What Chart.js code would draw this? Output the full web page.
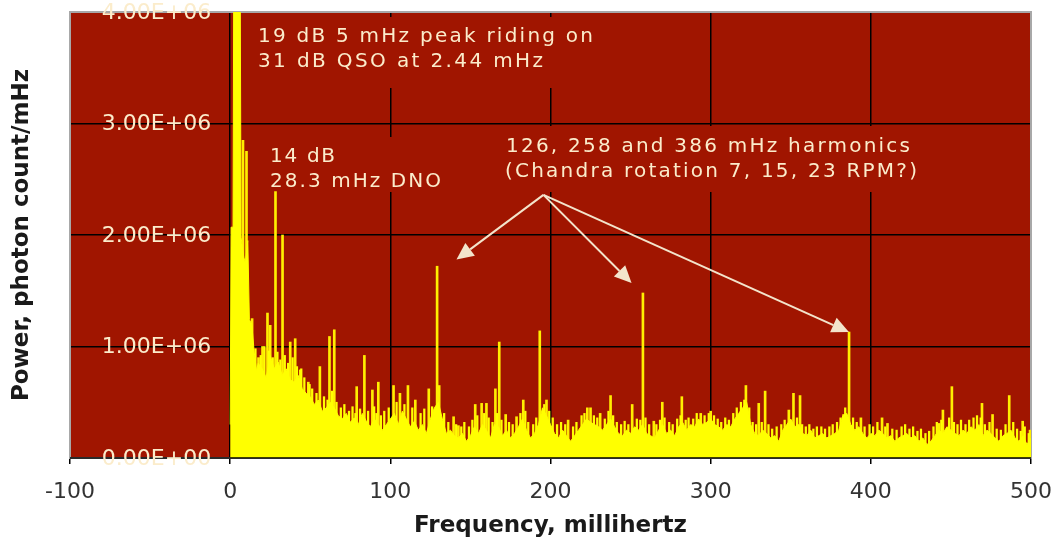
<!DOCTYPE html>
<html>
<head>
<meta charset="utf-8">
<script src="https://cdn.jsdelivr.net/npm/chart.js@4.4.0/dist/chart.umd.min.js"></script>
<style>
  html, body { margin: 0; padding: 0; background: #fff; }
  #wrap { width: 1054px; height: 542px; }
</style>
</head>
<body>
<div id="wrap"><canvas id="powerChart" width="1054" height="542"></canvas></div>
<script>
// Power values are in millions of photon counts/mHz (1.00 = 1.00E+06)

// dense spectrum envelope
const floorFreq = [
    0, 0.6, 1.8, 2.4, 5.0, 6.2, 6.8, 8.5, 9.5, 11.0, 12.0, 13.5, 15.0, 16.5,
    17.5, 20, 22.5, 25, 27.5, 30, 32.5, 35, 37.5, 40,
    42.5, 45, 47.5, 50, 52.5, 55, 57.5, 60, 62.5, 65,
    67.5, 70, 72.5, 75, 77.5, 80, 82.5, 85, 87.5, 90,
    92.5, 95, 97.5, 100, 102.5, 105, 107.5, 110, 112.5, 115,
    117.5, 120, 122.5, 125, 127.5, 130, 132.5, 135, 137.5, 140,
    142.5, 145, 147.5, 150, 152.5, 155, 157.5, 160, 162.5, 165,
    167.5, 170, 172.5, 175, 177.5, 180, 182.5, 185, 187.5, 190,
    192.5, 195, 197.5, 200, 202.5, 205, 207.5, 210, 212.5, 215,
    217.5, 220, 222.5, 225, 227.5, 230, 232.5, 235, 237.5, 240,
    242.5, 245, 247.5, 250, 252.5, 255, 257.5, 260, 262.5, 265,
    267.5, 270, 272.5, 275, 277.5, 280, 282.5, 285, 287.5, 290,
    292.5, 295, 297.5, 300, 302.5, 305, 307.5, 310, 312.5, 315,
    317.5, 320, 322.5, 325, 327.5, 330, 332.5, 335, 337.5, 340,
    342.5, 345, 347.5, 350, 352.5, 355, 357.5, 360, 362.5, 365,
    367.5, 370, 372.5, 375, 377.5, 380, 382.5, 385, 387.5, 390,
    392.5, 395, 397.5, 400, 402.5, 405, 407.5, 410, 412.5, 415,
    417.5, 420, 422.5, 425, 427.5, 430, 432.5, 435, 437.5, 440,
    442.5, 445, 447.5, 450, 452.5, 455, 457.5, 460, 462.5, 465,
    467.5, 470, 472.5, 475, 477.5, 480, 482.5, 485, 487.5, 490,
    492.5, 495, 497.5, 500
];
const floorPower = [
    0.30, 2.07, 2.07, 5.2, 5.0, 4.6, 1.98, 1.80, 1.75, 1.95, 1.24, 1.20, 0.95, 0.78,
    0.85, 0.80, 0.72, 0.92, 0.80, 0.86, 0.74, 0.80, 0.70, 0.68,
    0.74, 0.62, 0.58, 0.55, 0.48, 0.52, 0.42, 0.45, 0.50, 0.45,
    0.38, 0.35, 0.40, 0.32, 0.36, 0.30, 0.40, 0.33, 0.28, 0.35,
    0.30, 0.25, 0.30, 0.35, 0.40, 0.30, 0.42, 0.35, 0.28, 0.33,
    0.25, 0.30, 0.22, 0.35, 0.45, 0.50, 0.35, 0.22, 0.25, 0.20,
    0.18, 0.22, 0.15, 0.20, 0.28, 0.22, 0.30, 0.25, 0.18, 0.30,
    0.28, 0.20, 0.25, 0.18, 0.22, 0.28, 0.35, 0.25, 0.18, 0.22,
    0.30, 0.45, 0.38, 0.30, 0.22, 0.18, 0.25, 0.20, 0.15, 0.20,
    0.25, 0.30, 0.35, 0.32, 0.30, 0.28, 0.25, 0.30, 0.35, 0.28,
    0.22, 0.20, 0.25, 0.22, 0.28, 0.25, 0.30, 0.22, 0.20, 0.18,
    0.25, 0.30, 0.22, 0.25, 0.20, 0.28, 0.32, 0.25, 0.30, 0.28,
    0.35, 0.30, 0.32, 0.35, 0.30, 0.28, 0.25, 0.30, 0.28, 0.35,
    0.40, 0.45, 0.50, 0.30, 0.22, 0.20, 0.25, 0.22, 0.18, 0.20,
    0.15, 0.25, 0.30, 0.35, 0.28, 0.30, 0.22, 0.20, 0.25, 0.18,
    0.20, 0.22, 0.18, 0.20, 0.22, 0.25, 0.38, 0.40, 0.30, 0.25,
    0.28, 0.22, 0.18, 0.22, 0.20, 0.25, 0.22, 0.18, 0.20, 0.15,
    0.18, 0.20, 0.22, 0.18, 0.20, 0.15, 0.18, 0.12, 0.15, 0.20,
    0.25, 0.22, 0.28, 0.25, 0.22, 0.20, 0.25, 0.22, 0.28, 0.25,
    0.30, 0.20, 0.25, 0.22, 0.18, 0.15, 0.20, 0.22, 0.25, 0.18,
    0.15, 0.20, 0.12, 0.18
];

// small peaks that make the grass over the floor
const grassFreq = [
    15.8, 19.1, 21.4, 24.2, 26.6, 29.5, 31.3, 34.1, 36.2, 39.0,
    41.7, 44.4, 46.3, 49.6, 51.2, 53.9, 58.6, 60.8, 63.6, 66.4,
    69.1, 71.3, 74.2, 76.4, 78.2, 81.1, 86.1, 89.9, 91.3, 94.1,
    96.2, 99.0, 103.9, 108.8, 113.7, 118.9, 121.2, 126.1, 133.6, 136.2,
    141.1, 144.3, 146.2, 149.1, 151.2, 154.3, 158.6, 161.4, 163.8, 166.6,
    169.4, 174.1, 176.4, 181.2, 184.3, 186.1, 189.2, 191.1, 196.1, 199.2,
    201.4, 204.1, 206.6, 209.2, 214.1, 216.2, 219.4, 221.2, 227.1, 229.2,
    233.9, 236.2, 239.1, 241.4, 244.1, 246.3, 248.6, 253.9, 256.1, 259.3,
    261.6, 266.1, 268.4, 271.2, 274.1, 276.3, 279.1, 281.2, 284.4, 286.2,
    289.1, 291.3, 296.2, 298.8, 302.1, 304.4, 306.6, 309.1, 311.4, 314.1,
    316.3, 318.9, 321.0, 324.1, 326.2, 328.4, 331.9, 336.1, 338.4, 341.2,
    344.1, 346.2, 353.9, 357.1, 359.4, 361.6, 364.1, 366.3, 369.1, 371.4,
    374.1, 376.2, 378.9, 381.1, 384.0, 388.9, 391.2, 396.1, 399.2, 401.4,
    404.1, 409.0, 413.4, 416.1, 419.2, 421.4, 424.1, 426.4, 429.1, 431.3,
    434.1, 436.4, 439.1, 441.2, 444.0, 448.9, 451.9, 454.1, 456.3, 459.1,
    461.4, 464.1, 466.3, 468.6, 471.2, 474.1, 478.6, 481.2, 484.1, 488.9,
    491.3, 493.6, 496.1, 498.6
];
const grassPower = [
    0.98, 0.92, 1.00, 0.96, 0.90, 0.95, 0.88, 0.92, 0.85, 0.90,
    0.82, 0.80, 0.72, 0.66, 0.62, 0.58, 0.55, 0.52, 0.60, 0.50,
    0.45, 0.48, 0.42, 0.46, 0.40, 0.44, 0.42, 0.46, 0.40, 0.38,
    0.42, 0.45, 0.50, 0.48, 0.45, 0.40, 0.44, 0.46, 0.40, 0.32,
    0.30, 0.28, 0.32, 0.28, 0.34, 0.38, 0.40, 0.36, 0.32, 0.40,
    0.34, 0.32, 0.30, 0.40, 0.42, 0.32, 0.30, 0.36, 0.48, 0.42,
    0.36, 0.30, 0.32, 0.30, 0.28, 0.32, 0.38, 0.40, 0.38, 0.36,
    0.35, 0.42, 0.38, 0.32, 0.30, 0.33, 0.30, 0.35, 0.34, 0.36,
    0.30, 0.30, 0.34, 0.36, 0.32, 0.30, 0.35, 0.38, 0.34, 0.36,
    0.35, 0.40, 0.38, 0.40, 0.38, 0.35, 0.32, 0.36, 0.34, 0.40,
    0.45, 0.50, 0.52, 0.45, 0.32, 0.30, 0.32, 0.30, 0.26, 0.28,
    0.30, 0.34, 0.36, 0.30, 0.28, 0.30, 0.26, 0.28, 0.28, 0.26,
    0.28, 0.30, 0.32, 0.36, 0.45, 0.36, 0.32, 0.28, 0.30, 0.28,
    0.32, 0.28, 0.26, 0.25, 0.28, 0.30, 0.26, 0.28, 0.24, 0.26,
    0.22, 0.24, 0.28, 0.32, 0.34, 0.36, 0.32, 0.30, 0.34, 0.30,
    0.34, 0.36, 0.38, 0.36, 0.30, 0.32, 0.26, 0.25, 0.30, 0.32,
    0.26, 0.24, 0.28, 0.22
];

// narrow peaks standing above the floor
const spikeFreq = [
    8.0, 10.2, 13.7, 17.7, 20.2, 23.3, 25.0, 28.3, 32.7, 37.5, 40.6, 43.8, 48.8, 56.0, 62.0, 65.0, 79.0, 83.8, 88.8, 92.5,
    102, 106, 111, 115.6, 124, 129.2, 130.5, 139.5, 142.5, 153, 157, 160, 165.6, 168, 172, 178.8, 183, 193.3, 197.5, 211,
    223, 225, 231, 237.5, 251,
    257.7, 264.5, 269.8, 282, 293.8, 300, 322, 330, 334, 348.8, 351.7, 355.8, 383, 386.4, 393.8, 407, 410.4, 442.5, 445, 450.6,
    469.4, 476, 486.4, 494.8, 499.4
];
const spikePower = [
    2.85, 2.75, 1.25, 0.90, 1.00, 1.30, 1.19, 2.39, 2.00, 1.04, 1.07, 0.79, 0.68, 0.82, 1.09, 1.15, 0.64, 0.92, 0.61, 0.68,
    0.65, 0.58, 0.65, 0.52, 0.62, 1.72, 0.65, 0.37, 0.29, 0.48, 0.49, 0.49, 0.62, 1.04, 0.39, 0.37, 0.52, 1.14, 0.52, 0.34,
    0.45, 0.45, 0.40, 0.56, 0.48,
    1.48, 0.33, 0.50, 0.55, 0.40, 0.42, 0.65, 0.49, 0.60, 0.43, 0.58, 0.56, 0.39, 1.13, 0.36, 0.36, 0.31, 0.31, 0.43, 0.64,
    0.49, 0.39, 0.56, 0.33, 0.25
];

const xMin = -100, xMax = 500, xStep = 100;
const yMin = 0, yMax = 4, yStep = 1;

const noteQso = ['19 dB 5 mHz peak riding on', '31 dB QSO at 2.44 mHz'];
const noteDno = ['14 dB', '28.3 mHz DNO'];
const noteHarm = ['126, 258 and 386 mHz harmonics', '(Chandra rotation 7, 15, 23 RPM?)'];
// arrows: tail and tips in data units [mHz, millions]
const arrowTail = [195.6, 2.36];
const arrowTips = [[141.3, 1.78], [250.6, 1.57], [386.3, 1.13]];

const plotRed = '#a01500';
const cream = '#fbeccb';

function formatPower(v) {
    return v === 0 ? '0.00E+00' : v.toFixed(2) + 'E+06';
}

// draws text widened by letter spacing to a target width
function spacedText(ctx, text, x, y, width) {
    ctx.letterSpacing = '0px';
    const w = ctx.measureText(text).width;
    const sp = Math.max(0, (width - w) / (text.length - 1));
    ctx.letterSpacing = sp + 'px';
    ctx.fillText(text, x, y);
    ctx.letterSpacing = '0px';
}

function arrow(ctx, x1, y1, x2, y2) {
    const ang = Math.atan2(y2 - y1, x2 - x1);
    const len = 17, half = 8;
    const bx = x2 - len * Math.cos(ang), by = y2 - len * Math.sin(ang);
    ctx.beginPath();
    ctx.moveTo(x1, y1);
    ctx.lineTo(bx, by);
    ctx.stroke();
    ctx.beginPath();
    ctx.moveTo(x2, y2);
    ctx.lineTo(bx + half * Math.sin(ang), by - half * Math.cos(ang));
    ctx.lineTo(bx - half * Math.sin(ang), by + half * Math.cos(ang));
    ctx.closePath();
    ctx.fill();
}

const plotDecor = {
    id: 'plotDecor',
    beforeDraw(chart) {
        const {ctx, chartArea: a} = chart;
        ctx.save();
        ctx.fillStyle = plotRed;
        ctx.fillRect(a.left, a.top, a.right - a.left, a.bottom - a.top);
        ctx.restore();
    },
    beforeDatasetsDraw(chart) {
        const {ctx, chartArea: a} = chart;
        ctx.save();
        // boxes behind the notes hide the grid
        ctx.fillStyle = plotRed;
        ctx.fillRect(250, 17, 352, 71);
        ctx.fillRect(262, 137, 190, 55);
        ctx.fillRect(498, 126, 430, 66);
        // plot frame
        ctx.strokeStyle = '#a8a8a8';
        ctx.lineWidth = 2;
        ctx.strokeRect(a.left, a.top, a.right - a.left, a.bottom - a.top);
        ctx.restore();
    },
    afterDatasetsDraw(chart) {
        const {ctx, chartArea: a, scales: {x, y}} = chart;
        ctx.save();
        // x axis line
        ctx.strokeStyle = '#000';
        ctx.lineWidth = 1.5;
        ctx.beginPath();
        ctx.moveTo(a.left, a.bottom);
        ctx.lineTo(a.right, a.bottom);
        ctx.stroke();

        // y tick labels sit left of the axis crossing at 0 mHz
        ctx.fillStyle = cream;
        ctx.font = '22px "DejaVu Sans"';
        ctx.textAlign = 'right';
        ctx.textBaseline = 'middle';
        const x0 = x.getPixelForValue(0);
        y.ticks.forEach(t => {
            ctx.fillText(formatPower(t.value), x0 - 19, y.getPixelForValue(t.value) + 1);
        });

        // notes
        ctx.textAlign = 'left';
        ctx.textBaseline = 'alphabetic';
        ctx.font = '20px "DejaVu Sans"';
        spacedText(ctx, noteQso[0], 258, 42, 335);
        spacedText(ctx, noteQso[1], 258, 67, 285);
        spacedText(ctx, noteDno[0], 270, 162, 65);
        spacedText(ctx, noteDno[1], 270, 187, 171);
        spacedText(ctx, noteHarm[0], 506, 152, 404);
        spacedText(ctx, noteHarm[1], 505, 177, 412);

        // arrows
        ctx.strokeStyle = '#f3e4cb';
        ctx.fillStyle = '#f3e4cb';
        ctx.lineWidth = 2;
        const tx = x.getPixelForValue(arrowTail[0]), ty = y.getPixelForValue(arrowTail[1]);
        arrowTips.forEach(p => arrow(ctx, tx, ty, x.getPixelForValue(p[0]), y.getPixelForValue(p[1])));

        // y axis title
        ctx.fillStyle = '#1a1a1a';
        ctx.font = 'bold 23px "DejaVu Sans"';
        ctx.textAlign = 'center';
        ctx.textBaseline = 'middle';
        ctx.translate(22, (a.top + a.bottom) / 2);
        ctx.rotate(-Math.PI / 2);
        ctx.fillText('Power, photon count/mHz', 0, 0);
        ctx.restore();
    }
};

const floorData = floorFreq.map((f, i) => ({x: f, y: floorPower[i]}));
const grassData = grassFreq.map((f, i) => ({x: f, y: grassPower[i]}));
const spikeData = spikeFreq.map((f, i) => ({x: f, y: spikePower[i]}));

new Chart(document.getElementById('powerChart'), {
    type: 'line',
    data: {
        datasets: [{
            type: 'bar',
            label: 'Peaks',
            data: spikeData,
            backgroundColor: '#ffee00',
            borderWidth: 0,
            barThickness: 2,
            grouped: false,
            order: 3
        }, {
            type: 'bar',
            label: 'Grass',
            data: grassData,
            backgroundColor: '#ffff00',
            borderWidth: 0,
            barThickness: 1.6,
            grouped: false,
            order: 2
        }, {
            type: 'line',
            label: 'Spectrum',
            data: floorData,
            borderColor: '#ffff00',
            backgroundColor: '#ffff00',
            borderWidth: 1,
            pointRadius: 0,
            tension: 0,
            fill: 'origin',
            order: 1
        }]
    },
    options: {
        responsive: false,
        animation: false,
        layout: { padding: { left: 70, right: 23, top: 12, bottom: 0 } },
        plugins: { legend: { display: false }, tooltip: { enabled: false } },
        scales: {
            x: {
                type: 'linear',
                min: xMin,
                max: xMax,
                offset: false,
                ticks: {
                    stepSize: xStep,
                    color: '#333',
                    padding: 15,
                    font: { family: 'DejaVu Sans', size: 22 }
                },
                grid: {
                    offset: false,
                    color: c => (c.tick && (c.tick.value === xMin || c.tick.value === xMax)) ? 'rgba(0,0,0,0)' : '#000',
                    lineWidth: 1.5,
                    tickColor: '#000',
                    tickLength: 6
                },
                border: { display: false },
                title: {
                    display: true,
                    text: 'Frequency, millihertz',
                    color: '#1a1a1a',
                    font: { family: 'DejaVu Sans', size: 23, weight: 'bold' },
                    padding: { top: 0, bottom: 2 }
                },
                afterFit: s => {
                    s.height = 84;
                    s.paddingLeft = 0;
                    s.paddingRight = 0;
                }
            },
            y: {
                min: yMin,
                max: yMax,
                ticks: { stepSize: yStep, display: false },
                grid: {
                    color: c => (c.tick && (c.tick.value === yMin || c.tick.value === yMax)) ? 'rgba(0,0,0,0)' : '#000',
                    lineWidth: 1.5,
                    drawTicks: false
                },
                border: { display: false },
                afterFit: s => {
                    s.width = 0;
                    s.paddingTop = 0;
                    s.paddingBottom = 0;
                }
            }
        }
    },
    plugins: [plotDecor]
});
</script>
</body>
</html>
